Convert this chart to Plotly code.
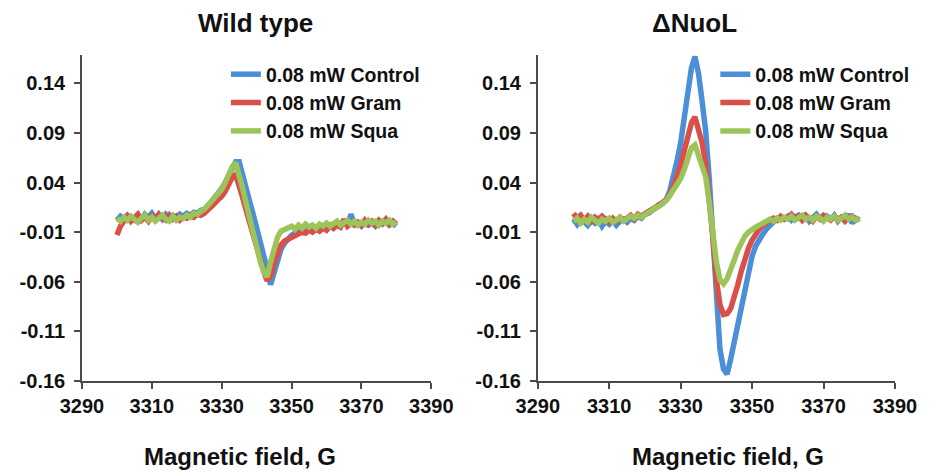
import plotly.graph_objects as go

# magnetic field, G (one reading per gauss)
field = list(range(3300, 3381))

# Wild type
wt_control = [0.002, 0.006, 0.003, 0.007, 0.004, 0.002, 0.006, 0.003, 0.008, 0.005,
              0.009, 0.004, 0.007, 0.003, 0.008, 0.005, 0.007, 0.004, 0.008, 0.006,
              0.009, 0.007, 0.010, 0.009, 0.012, 0.013, 0.016, 0.020, 0.024, 0.029,
              0.034, 0.040, 0.047, 0.054, 0.061, 0.061, 0.049, 0.035, 0.021, 0.008,
              -0.005, -0.019, -0.033, -0.047, -0.063, -0.050, -0.036, -0.027, -0.021, -0.016,
              -0.013, -0.011, -0.010, -0.008, -0.009, -0.006, -0.008, -0.005, -0.007, -0.004,
              -0.006, -0.003, -0.006, -0.002, -0.004, -0.001, -0.003, 0.008, -0.002, -0.001,
              -0.004, 0.000, -0.003, -0.001, -0.004, 0.000, -0.002, 0.001, -0.003, -0.001,
              -0.004]
wt_gram = [-0.013, -0.004, 0.001, 0.006, 0.001, 0.004, 0.008, 0.002, 0.005, 0.001,
           0.006, 0.003, 0.008, 0.004, 0.002, 0.007, 0.003, 0.006, 0.002, 0.005,
           0.004, 0.007, 0.005, 0.008, 0.007, 0.009, 0.012, 0.015, 0.019, 0.023,
           0.026, 0.031, 0.038, 0.045, 0.048, 0.038, 0.025, 0.012, -0.001, -0.014,
           -0.026, -0.038, -0.049, -0.059, -0.054, -0.041, -0.030, -0.023, -0.019, -0.017,
           -0.015, -0.013, -0.012, -0.010, -0.011, -0.008, -0.010, -0.007, -0.009, -0.006,
           -0.008, -0.004, -0.006, -0.003, -0.005, 0.003, -0.004, -0.001, -0.003, 0.000,
           -0.003, 0.002, -0.002, 0.001, -0.003, 0.002, -0.001, 0.003, -0.002, 0.001,
           -0.002]
wt_squa = [0.004, 0.001, 0.005, 0.002, 0.006, 0.003, 0.000, 0.004, 0.007, 0.002,
           0.005, 0.001, 0.004, 0.007, 0.003, 0.001, 0.006, 0.002, 0.005, 0.004,
           0.007, 0.005, 0.009, 0.008, 0.011, 0.013, 0.017, 0.021, 0.024, 0.028,
           0.033, 0.040, 0.048, 0.056, 0.060, 0.049, 0.034, 0.019, 0.003, -0.012,
           -0.026, -0.039, -0.050, -0.055, -0.040, -0.026, -0.015, -0.009, -0.007, -0.006,
           -0.004, -0.007, -0.003, -0.006, -0.002, -0.005, -0.003, -0.006, -0.002, -0.004,
           -0.001, -0.004, -0.002, 0.001, -0.003, -0.001, 0.002, -0.002, 0.001, -0.003,
           0.000, -0.002, 0.002, -0.001, 0.001, -0.003, 0.001, -0.001, 0.002, -0.002,
           0.000]

# ΔNuoL
nuol_control = [0.003, -0.002, 0.004, 0.000, -0.003, 0.002, -0.001, 0.003, -0.004, 0.001,
                -0.002, 0.002, -0.003, 0.001, 0.003, 0.000, 0.004, 0.002, 0.006, 0.004,
                0.008, 0.009, 0.012, 0.014, 0.017, 0.019, 0.023, 0.032, 0.045, 0.062,
                0.080, 0.104, 0.130, 0.155, 0.167, 0.150, 0.122, 0.092, 0.044, -0.014,
                -0.080, -0.128, -0.148, -0.153, -0.138, -0.120, -0.103, -0.084, -0.064, -0.047,
                -0.034, -0.024, -0.017, -0.012, -0.007, -0.003, 0.000, 0.004, 0.005, 0.003,
                0.006, 0.002, 0.005, 0.007, 0.003, 0.006, 0.001, 0.005, 0.008, 0.004,
                0.002, 0.006, 0.003, 0.007, 0.001, 0.005, 0.002, 0.008, -0.001, 0.004,
                0.002]
nuol_gram = [0.009, 0.004, 0.007, 0.002, 0.006, 0.001, 0.005, 0.002, 0.006, 0.003,
             0.000, 0.004, 0.001, 0.005, 0.002, 0.004, 0.007, 0.003, 0.008, 0.006,
             0.009, 0.011, 0.013, 0.015, 0.018, 0.020, 0.023, 0.028, 0.036, 0.045,
             0.057, 0.072, 0.088, 0.100, 0.106, 0.093, 0.080, 0.058, 0.025, -0.015,
             -0.058, -0.083, -0.093, -0.092, -0.087, -0.077, -0.063, -0.049, -0.036, -0.026,
             -0.018, -0.011, -0.007, -0.003, 0.000, 0.002, 0.004, 0.002, 0.006, 0.003,
             0.005, 0.008, 0.004, 0.006, 0.002, 0.007, 0.004, 0.001, 0.006, 0.003,
             0.007, 0.004, 0.002, 0.006, 0.003, 0.005, 0.001, 0.004, 0.006, 0.002,
             0.004]
nuol_squa = [0.001, 0.004, -0.001, 0.003, 0.000, 0.005, 0.002, -0.001, 0.003, 0.001,
             0.004, 0.000, 0.002, 0.005, 0.001, 0.003, 0.006, 0.004, 0.007, 0.005,
             0.008, 0.010, 0.012, 0.015, 0.016, 0.019, 0.022, 0.027, 0.033, 0.038,
             0.044, 0.053, 0.064, 0.075, 0.078, 0.068, 0.058, 0.046, 0.020, -0.012,
             -0.040, -0.058, -0.062, -0.057, -0.049, -0.038, -0.028, -0.020, -0.014, -0.010,
             -0.007, -0.005, -0.003, -0.001, 0.001, 0.003, 0.001, 0.004, 0.002, 0.005,
             0.003, 0.006, 0.002, 0.004, 0.007, 0.003, 0.005, 0.002, 0.006, 0.004,
             0.001, 0.005, 0.003, 0.006, 0.002, 0.004, 0.007, 0.003, 0.005, 0.002,
             0.004]

names = ["0.08 mW Control", "0.08 mW Gram", "0.08 mW Squa"]
colors = ["#4A8FD8", "#DA5049", "#9CC45A"]
y_ticks = [-0.16, -0.11, -0.06, -0.01, 0.04, 0.09, 0.14]
x_ticks = [3290, 3310, 3330, 3350, 3370, 3390]

FONT = "Liberation Sans, Arial, sans-serif"

fig = go.Figure()
panels = [("x", "y", "legend", [wt_control, wt_gram, wt_squa]),
          ("x2", "y2", "legend2", [nuol_control, nuol_gram, nuol_squa])]
for xa, ya, leg, series in panels:
    for name, col, vals in zip(names, colors, series):
        fig.add_trace(go.Scatter(x=field, y=vals, name=name, mode="lines",
                                 line=dict(color=col, width=5.5),
                                 xaxis=xa, yaxis=ya, legend=leg))

axis_style = dict(showline=True, linecolor="#4a4a4a", linewidth=1.6, showgrid=False,
                  zeroline=False, ticks="outside", ticklen=6, tickwidth=1.6,
                  tickcolor="#4a4a4a",
                  tickfont=dict(family=FONT, size=20, color="#111111", weight="bold"))

legend_font = dict(family=FONT, size=19.5, color="#111111", weight="bold")

# the page puts the plot 8px in from the top-left corner
fig.update_layout(
    width=923, height=467,
    paper_bgcolor="white", plot_bgcolor="white",
    margin=dict(l=70, r=36, t=47, b=94),
    xaxis=dict(domain=[0, 0.4296], range=[3290, 3390], tickvals=x_ticks, **axis_style),
    xaxis2=dict(domain=[0.5606, 1], range=[3290, 3390], tickvals=x_ticks, **axis_style),
    yaxis=dict(range=[-0.16, 0.1685], tickvals=y_ticks, ticklabelstandoff=5,
               ticktext=[f"{v:.2f}" for v in y_ticks], anchor="x", **axis_style),
    yaxis2=dict(range=[-0.16, 0.1685], tickvals=y_ticks, ticklabelstandoff=5,
                ticktext=[f"{v:.2f}" for v in y_ticks], anchor="x2", **axis_style),
    legend=dict(x=0.177, y=1.0, xanchor="left", yanchor="top", bgcolor="rgba(0,0,0,0)",
                font=legend_font),
    legend2=dict(x=0.779, y=1.0, xanchor="left", yanchor="top", bgcolor="rgba(0,0,0,0)",
                 font=legend_font),
    showlegend=True,
)

titles = [("Wild type", 0.214), ("\u0394NuoL", 0.753)]
for text, xp in titles:
    fig.add_annotation(text=text, x=xp, y=1.098, xref="paper", yref="paper",
                       showarrow=False, xanchor="center", yanchor="middle",
                       font=dict(family=FONT, size=26, color="#111111", weight="bold"))
for xp in [0.1946, 0.794]:
    fig.add_annotation(text="Magnetic field, G", x=xp, y=-0.233, xref="paper", yref="paper",
                       showarrow=False, xanchor="center", yanchor="middle",
                       font=dict(family=FONT, size=24, color="#111111", weight="bold"))

fig.write_html("out.html")
